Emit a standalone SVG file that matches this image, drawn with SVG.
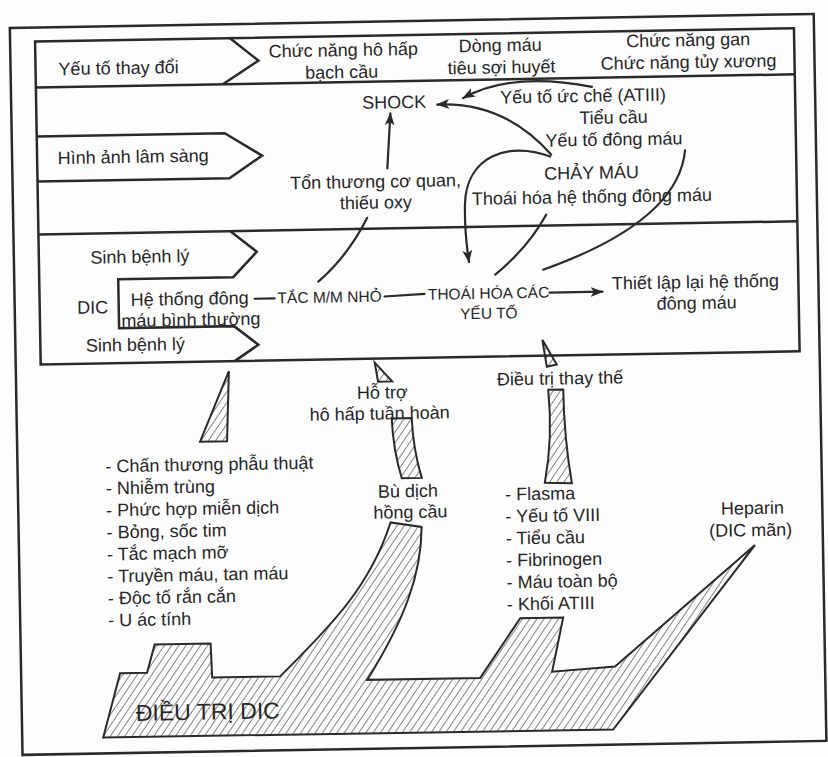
<svg xmlns="http://www.w3.org/2000/svg" width="828" height="757" viewBox="0 0 828 757">
  <defs>
    <style>
      text { font-family: "Liberation Sans", Arial, "DejaVu Sans", sans-serif; font-size: 18px; fill: #262626; }
      .m { text-anchor: middle; }
      .caps { font-size: 15.5px; }
      .big { font-size: 23px; }
      .frame { fill: none; stroke: #2a2a2a; stroke-width: 2.5; stroke-linejoin: miter; }
      .conn { fill: none; stroke: #2a2a2a; stroke-width: 2.2; stroke-linecap: round; }
      .hatch { fill: url(#hatch); stroke: #2a2a2a; stroke-width: 2; stroke-linejoin: miter; }
    </style>
    <pattern id="hatch" patternUnits="userSpaceOnUse" width="6" height="6" patternTransform="rotate(35)">
      <line x1="0" y1="0" x2="0" y2="6" stroke="#333" stroke-width="1.2"/>
    </pattern>
    <marker id="ah" viewBox="0 0 12 10" refX="11" refY="5" markerWidth="13" markerHeight="11" markerUnits="userSpaceOnUse" orient="auto">
      <path d="M0,0.5 L12,5 L0,9.5 L3,5 z" fill="#2a2a2a"/>
    </marker>
  </defs>

  <rect width="828" height="757" fill="#fdfdfd"/>

  <!-- the whole sheet sits slightly tilted -->
  <g transform="rotate(-1 414 378)">

    <!-- outer frame and the three-row panel -->
    <g id="frame">
      <rect x="16" y="21" width="804" height="727" class="frame"/>
      <rect x="41" y="35" width="759" height="323" class="frame"/>
      <line x1="41" y1="81" x2="800" y2="81" class="frame"/>
      <line x1="41" y1="228" x2="800" y2="228" class="frame"/>
    </g>

    <!-- row 1: changed factors -->
    <g id="yeu-to-thay-doi">
      <polyline points="236,35 264,58 228,81" class="frame"/>
      <text x="124" y="69" class="m">Yếu tố thay đổi</text>
    </g>
    <g id="ho-hap-bach-cau">
      <text x="349" y="55" class="m">Chức năng hô hấp</text>
      <text x="347" y="77" class="m">bạch cầu</text>
    </g>
    <g id="tieu-soi-huyet">
      <text x="506" y="53" class="m">Dòng máu</text>
      <text x="507" y="75" class="m">tiêu sợi huyết</text>
    </g>
    <g id="gan-tuy-xuong">
      <text x="694" y="51" class="m">Chức năng gan</text>
      <text x="694" y="73" class="m">Chức năng tủy xương</text>
    </g>

    <!-- row 2: clinical picture -->
    <g id="hinh-anh-lam-sang">
      <polyline points="41,130 229,130 266,153 233,175 41,175" class="frame"/>
      <text x="137" y="158" class="m">Hình ảnh lâm sàng</text>
    </g>
    <g id="shock">
      <text x="399" y="108" class="m">SHOCK</text>
    </g>
    <g id="ton-thuong">
      <text x="379" y="187" class="m">Tổn thương cơ quan,</text>
      <text x="379" y="208" class="m">thiếu oxy</text>
    </g>
    <g id="chay-mau-yeu-to">
      <text x="588" y="105" class="m">Yếu tố ức chế (ATIII)</text>
      <text x="618" y="127" class="m">Tiểu cầu</text>
      <text x="618" y="149" class="m">Yếu tố đông máu</text>
      <text x="595" y="182" class="m">CHẢY MÁU</text>
      <text x="595" y="206" class="m">Thoái hóa hệ thống đông máu</text>
    </g>

    <!-- row 3: pathogenesis -->
    <g id="sinh-benh-ly">
      <polyline points="233,228 259,249 235,274 120,274 120,323 235,323 259,342 235,358" class="frame"/>
      <text x="142" y="258" class="m">Sinh bệnh lý</text>
      <text x="94" y="308" class="m">DIC</text>
      <text x="136" y="346" class="m">Sinh bệnh lý</text>
    </g>
    <g id="he-thong-dong-mau">
      <text x="191" y="301" class="m">Hệ thống đông</text>
      <text x="192" y="322" class="m">máu bình thường</text>
    </g>
    <g id="tac-mm-nho">
      <text x="331" y="301" class="m caps">TẮC M/M NHỎ</text>
    </g>
    <g id="thoai-hoa-cac-yeu-to">
      <text x="490" y="300" class="m caps">THOÁI HÓA CÁC</text>
      <text x="490" y="320" class="m caps">YẾU TỐ</text>
    </g>
    <g id="thiet-lap-lai">
      <text x="697" y="293" class="m">Thiết lập lại hệ thống</text>
      <text x="698" y="314" class="m">đông máu</text>
    </g>

    <!-- connectors -->
    <g id="connectors">
      <line x1="256" y1="296" x2="276" y2="296" class="conn"/>
      <line x1="386" y1="296" x2="426" y2="294" class="conn"/>
      <line x1="551" y1="295" x2="604" y2="295" class="conn" marker-end="url(#ah)"/>
      <path d="M391 168 Q393 140 395 113" class="conn" marker-end="url(#ah)"/>
      <path d="M597 90 Q517 73 468 99" class="conn" marker-end="url(#ah)"/>
      <path d="M555 157 Q509 103 442 105" class="conn" marker-end="url(#ah)"/>
      <path d="M554 159 C512 142 470 158 468 205 C467 230 469 248 471 263" class="conn" marker-end="url(#ah)"/>
      <path d="M689 155 C684 200 640 240 545 272" class="conn"/>
      <path d="M549 217 Q530 250 497 276" class="conn"/>
      <path d="M370 217 Q350 255 320 280" class="conn"/>
    </g>

    <!-- hatched pointers -->
    <g id="pointer-sinh-benh-ly">
      <polygon points="229,368 199,438 226,438" class="hatch"/>
    </g>
    <g id="pointer-ho-tro">
      <polygon points="375,362 378,381 392,381" class="hatch"/>
      <text x="382" y="398" class="m">Hỗ trợ</text>
      <text x="379" y="419" class="m">hô hấp tuần hoàn</text>
      <path d="M391 418 L411 418 Q412 450 420 478 L400 478 Q392 450 391 418 Z" class="hatch"/>
    </g>
    <g id="pointer-dieu-tri-thay-the">
      <polygon points="543,342 547,369 557,367" class="hatch"/>
      <text x="560" y="387" class="m">Điều trị thay thế</text>
      <path d="M548 392 L563 392 Q563 440 570 486 L543 485 Q552 440 548 392 Z" class="hatch"/>
    </g>

    <!-- causes -->
    <g id="nguyen-nhan">
      <text x="104" y="467">- Chấn thương phẫu thuật</text>
      <text x="104" y="489">- Nhiễm trùng</text>
      <text x="104" y="511">- Phức hợp miễn dịch</text>
      <text x="104" y="533">- Bỏng, sốc tim</text>
      <text x="104" y="555">- Tắc mạch mỡ</text>
      <text x="104" y="577">- Truyền máu, tan máu</text>
      <text x="104" y="599">- Độc tố rắn cắn</text>
      <text x="104" y="621">- U ác tính</text>
    </g>

    <!-- replacement products -->
    <g id="che-pham">
      <text x="503" y="502">- Flasma</text>
      <text x="503" y="524">- Yếu tố VIII</text>
      <text x="503" y="546">- Tiểu cầu</text>
      <text x="503" y="568">- Fibrinogen</text>
      <text x="503" y="590">- Máu toàn bộ</text>
      <text x="503" y="612">- Khối ATIII</text>
    </g>

    <g id="heparin">
      <text x="750" y="520" class="m">Heparin</text>
      <text x="748" y="542" class="m">(DIC mãn)</text>
    </g>

    <g id="bu-dich">
      <text x="406" y="497" class="m">Bù dịch</text>
      <text x="408" y="518" class="m">hồng cầu</text>
    </g>

    <!-- treatment block -->
    <g id="dieu-tri-dic">
      <path d="M97 732 L115 668 L142 668 L150 640 L206 640 L207 674 L275 674 C320 630 365 590 388 522 L419 527 C418 575 400 620 362 679 L475 679 L516 620 L559 620 L547 674 L610 670 L752 551 L607 733 Z" class="hatch"/>
      <text x="202" y="716" class="m big">ĐIỀU TRỊ DIC</text>
    </g>
  </g>
</svg>
